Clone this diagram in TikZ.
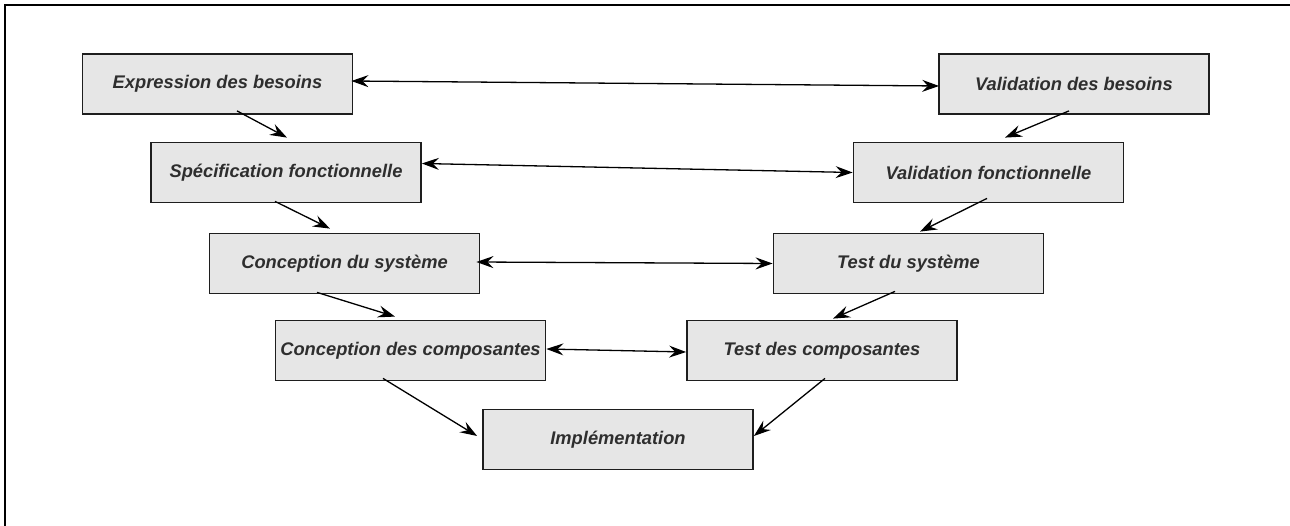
\documentclass[tikz,border=0pt]{standalone}
\usepackage{fontspec}
\setmainfont{Liberation Sans}
\usetikzlibrary{arrows.meta}
\definecolor{boxfill}{HTML}{E6E6E6}
\definecolor{boxline}{HTML}{1E1E1E}
\definecolor{txt}{HTML}{2E2E2E}
\tikzset{
  vbox/.style={draw=boxline, fill=boxfill, line width=1.8pt, minimum width=270pt, minimum height=60pt,
    inner sep=0pt, font=\fontsize{18.3pt}{20pt}\selectfont\bfseries\itshape, text=txt},
  tip/.style={Stealth[length=17pt,width=12pt,inset=6pt]},
  conn/.style={draw=black, line width=1.3pt, -{Stealth[length=17pt,width=12pt,inset=6pt]}},
  dconn/.style={draw=black, line width=1.3pt, {Stealth[length=17pt,width=12pt,inset=6pt]}-{Stealth[length=17pt,width=12pt,inset=6pt]}}
}
\begin{document}
\begin{tikzpicture}[x=1pt,y=-1pt]
\useasboundingbox (0,0) rectangle (1290,526);
\draw[line width=2pt, black] (5,527) -- (5,5) -- (1291,5);

\node[vbox] (exp) at (217.5,84) {Expression des besoins};
\node[vbox] (valb) at (1074,84) {Validation des besoins};
\node[vbox] (spec) at (286,172.5) {Spécification fonctionnelle};
\node[vbox] (valf) at (988.5,172.5) {Validation fonctionnelle};
\node[vbox] (csys) at (344.5,263.5) {Conception du système};
\node[vbox] (tsys) at (908.5,263.5) {Test du système};
\node[vbox] (ccomp) at (410.5,350.5) {Conception des composantes};
\node[vbox] (tcomp) at (822,350.5) {Test des composantes};
\node[vbox] (impl) at (618,439.5) {Implémentation};

% descending branch
\draw[conn] ([xshift=19.5pt,yshift=4pt]exp.south) -- ([xshift=1pt,yshift=4pt]spec.north);
\draw[conn] ([xshift=-11pt,yshift=2pt]spec.south) -- ([xshift=-14.5pt,yshift=4pt]csys.north);
\draw[conn] ([xshift=-27.5pt,yshift=2pt]csys.south) -- ([xshift=-15.5pt,yshift=3pt]ccomp.north);
\draw[conn] ([xshift=-27.5pt,yshift=3pt]ccomp.south) -- ([xshift=-5pt,yshift=3.5pt]impl.west);
% ascending branch (arrows point down)
\draw[conn] ([xshift=-5pt,yshift=4pt]valb.south) -- ([xshift=16.5pt,yshift=4pt]valf.north);
\draw[conn] ([xshift=-1.5pt,yshift=5pt]valf.south) -- ([xshift=11.5pt,yshift=1pt]tsys.north);
\draw[conn] ([xshift=-13.5pt,yshift=3pt]tsys.south) -- ([xshift=11pt,yshift=1pt]tcomp.north);
\draw[conn] ([xshift=3pt,yshift=3pt]tcomp.south) -- ([yshift=3.5pt]impl.east);
% horizontal links
\draw[dconn] ([xshift=-2pt,yshift=3pt]exp.east) -- ([xshift=1pt,yshift=-2pt]valb.west);
\draw[dconn] ([yshift=9pt]spec.east) -- (valf.west);
\draw[dconn] ([xshift=-4pt,yshift=1.5pt]csys.east) -- (tsys.west);
\draw[dconn] ([yshift=1.5pt]ccomp.east) -- ([yshift=-1.5pt]tcomp.west);
\end{tikzpicture}
\end{document}
